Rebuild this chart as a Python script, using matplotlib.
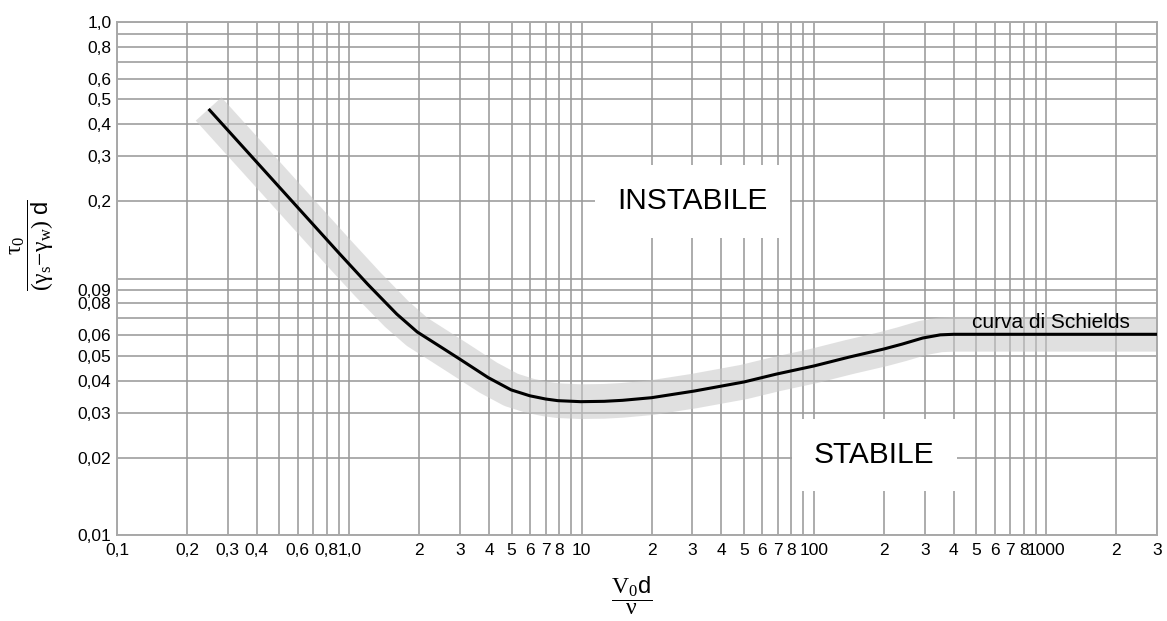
import matplotlib
matplotlib.use('Agg')
import matplotlib.pyplot as plt

# Shields curve (Re*, dimensionless shear stress)
re_vals = [0.248, 0.5, 0.9, 1.2, 1.6, 1.96, 2.5, 3.0, 3.96, 4.97, 5.98, 7.0, 7.9,
           9.9, 12.5, 15, 20, 30.5, 50, 69, 100, 142, 200, 240, 294, 350, 400, 3000]
theta_vals = [0.458, 0.227, 0.126, 0.095, 0.0727, 0.0619, 0.0538, 0.0484, 0.0411,
              0.0368, 0.0349, 0.0339, 0.0334, 0.0331, 0.0332, 0.0335, 0.0343, 0.0364,
              0.0395, 0.0424, 0.0456, 0.0494, 0.0531, 0.0555, 0.0586, 0.0603, 0.0606,
              0.0606]

xtick_vals = [0.1, 0.2, 0.3, 0.4, 0.5, 0.6, 0.7, 0.8, 0.9,
              1, 2, 3, 4, 5, 6, 7, 8, 9,
              10, 20, 30, 40, 50, 60, 70, 80, 90,
              100, 200, 300, 400, 500, 600, 700, 800, 900,
              1000, 2000, 3000]
xtick_labels = ['0,1', '0,2', '0,3', '0,4', '', '0,6', '', '0,8', '',
                '1,0', '2', '3', '4', '5', '6', '7', '8', '',
                '10', '2', '3', '4', '5', '6', '7', '8', '',
                '100', '2', '3', '4', '5', '6', '7', '8', '',
                '1000', '2', '3']

ytick_vals = [0.01, 0.02, 0.03, 0.04, 0.05, 0.06, 0.07, 0.08, 0.09,
              0.1, 0.2, 0.3, 0.4, 0.5, 0.6, 0.7, 0.8, 0.9, 1.0]
ytick_labels = ['0,01', '0,02', '0,03', '0,04', '0,05', '0,06', '', '0,08', '0,09',
                '', '0,2', '0,3', '0,4', '0,5', '0,6', '', '0,8', '', '1,0']


def main():
    plt.rcParams['font.family'] = ['Liberation Sans', 'DejaVu Sans']
    plt.rcParams['mathtext.fontset'] = 'custom'
    plt.rcParams['mathtext.rm'] = 'Liberation Serif'
    plt.rcParams['mathtext.it'] = 'Liberation Serif'
    plt.rcParams['mathtext.sf'] = 'Liberation Sans'

    W, H = 1167, 621
    fig = plt.figure(figsize=(W / 100, H / 100), dpi=100)
    ax = fig.add_axes([117 / W, 1 - 535 / H, (1157 - 117) / W, (535 - 22) / H])

    ax.set_xscale('log')
    ax.set_yscale('log')
    ax.set_xlim(0.1, 3000)
    ax.set_ylim(0.01, 1.0)

    ax.set_xticks(xtick_vals, xtick_labels)
    ax.set_yticks(ytick_vals, ytick_labels)
    ax.minorticks_off()
    ax.tick_params(length=0, labelsize=12.5, colors='black')
    ax.tick_params(axis='x', pad=6)
    ax.tick_params(axis='y', pad=4)
    ax.grid(True, color='#9a9a9a', linewidth=1.15, zorder=0)
    ax.set_axisbelow(True)
    for sp in ax.spines.values():
        sp.set_color('#a8a8a8')
        sp.set_linewidth(1.4)

    # grey band around the curve, then the curve itself
    ax.plot(re_vals, theta_vals, color='#c8c8c8', alpha=0.55, linewidth=25,
            solid_capstyle='butt', solid_joinstyle='round', zorder=1)
    ax.plot(re_vals, theta_vals, color='black', linewidth=2.2,
            solid_capstyle='butt', solid_joinstyle='round', zorder=3)

    box = dict(boxstyle='square,pad=0.75', facecolor='white', edgecolor='none')
    ax.text(30, 0.2, 'INSTABILE', fontsize=21.5, ha='center', va='center',
            bbox=box, zorder=4)
    ax.text(182, 0.0205, 'STABILE', fontsize=21.5, ha='center', va='center',
            bbox=box, zorder=4)
    ax.text(1050, 0.0676, 'curva di Schields', fontsize=15, ha='center',
            va='center', zorder=4)

    fig.text(32 / W, 1 - 245 / H,
             r'$\dfrac{\tau_0}{(\gamma_s\!-\!\gamma_w)\ \mathsf{d}}$',
             rotation=90, fontsize=17, ha='center', va='center')
    fig.text(632 / W, 1 - 596 / H, r'$\dfrac{\mathrm{V_0}\mathsf{d}}{\nu}$',
             fontsize=17, ha='center', va='center')

    fig.savefig('out.png', dpi=100)


if __name__ == '__main__':
    main()
